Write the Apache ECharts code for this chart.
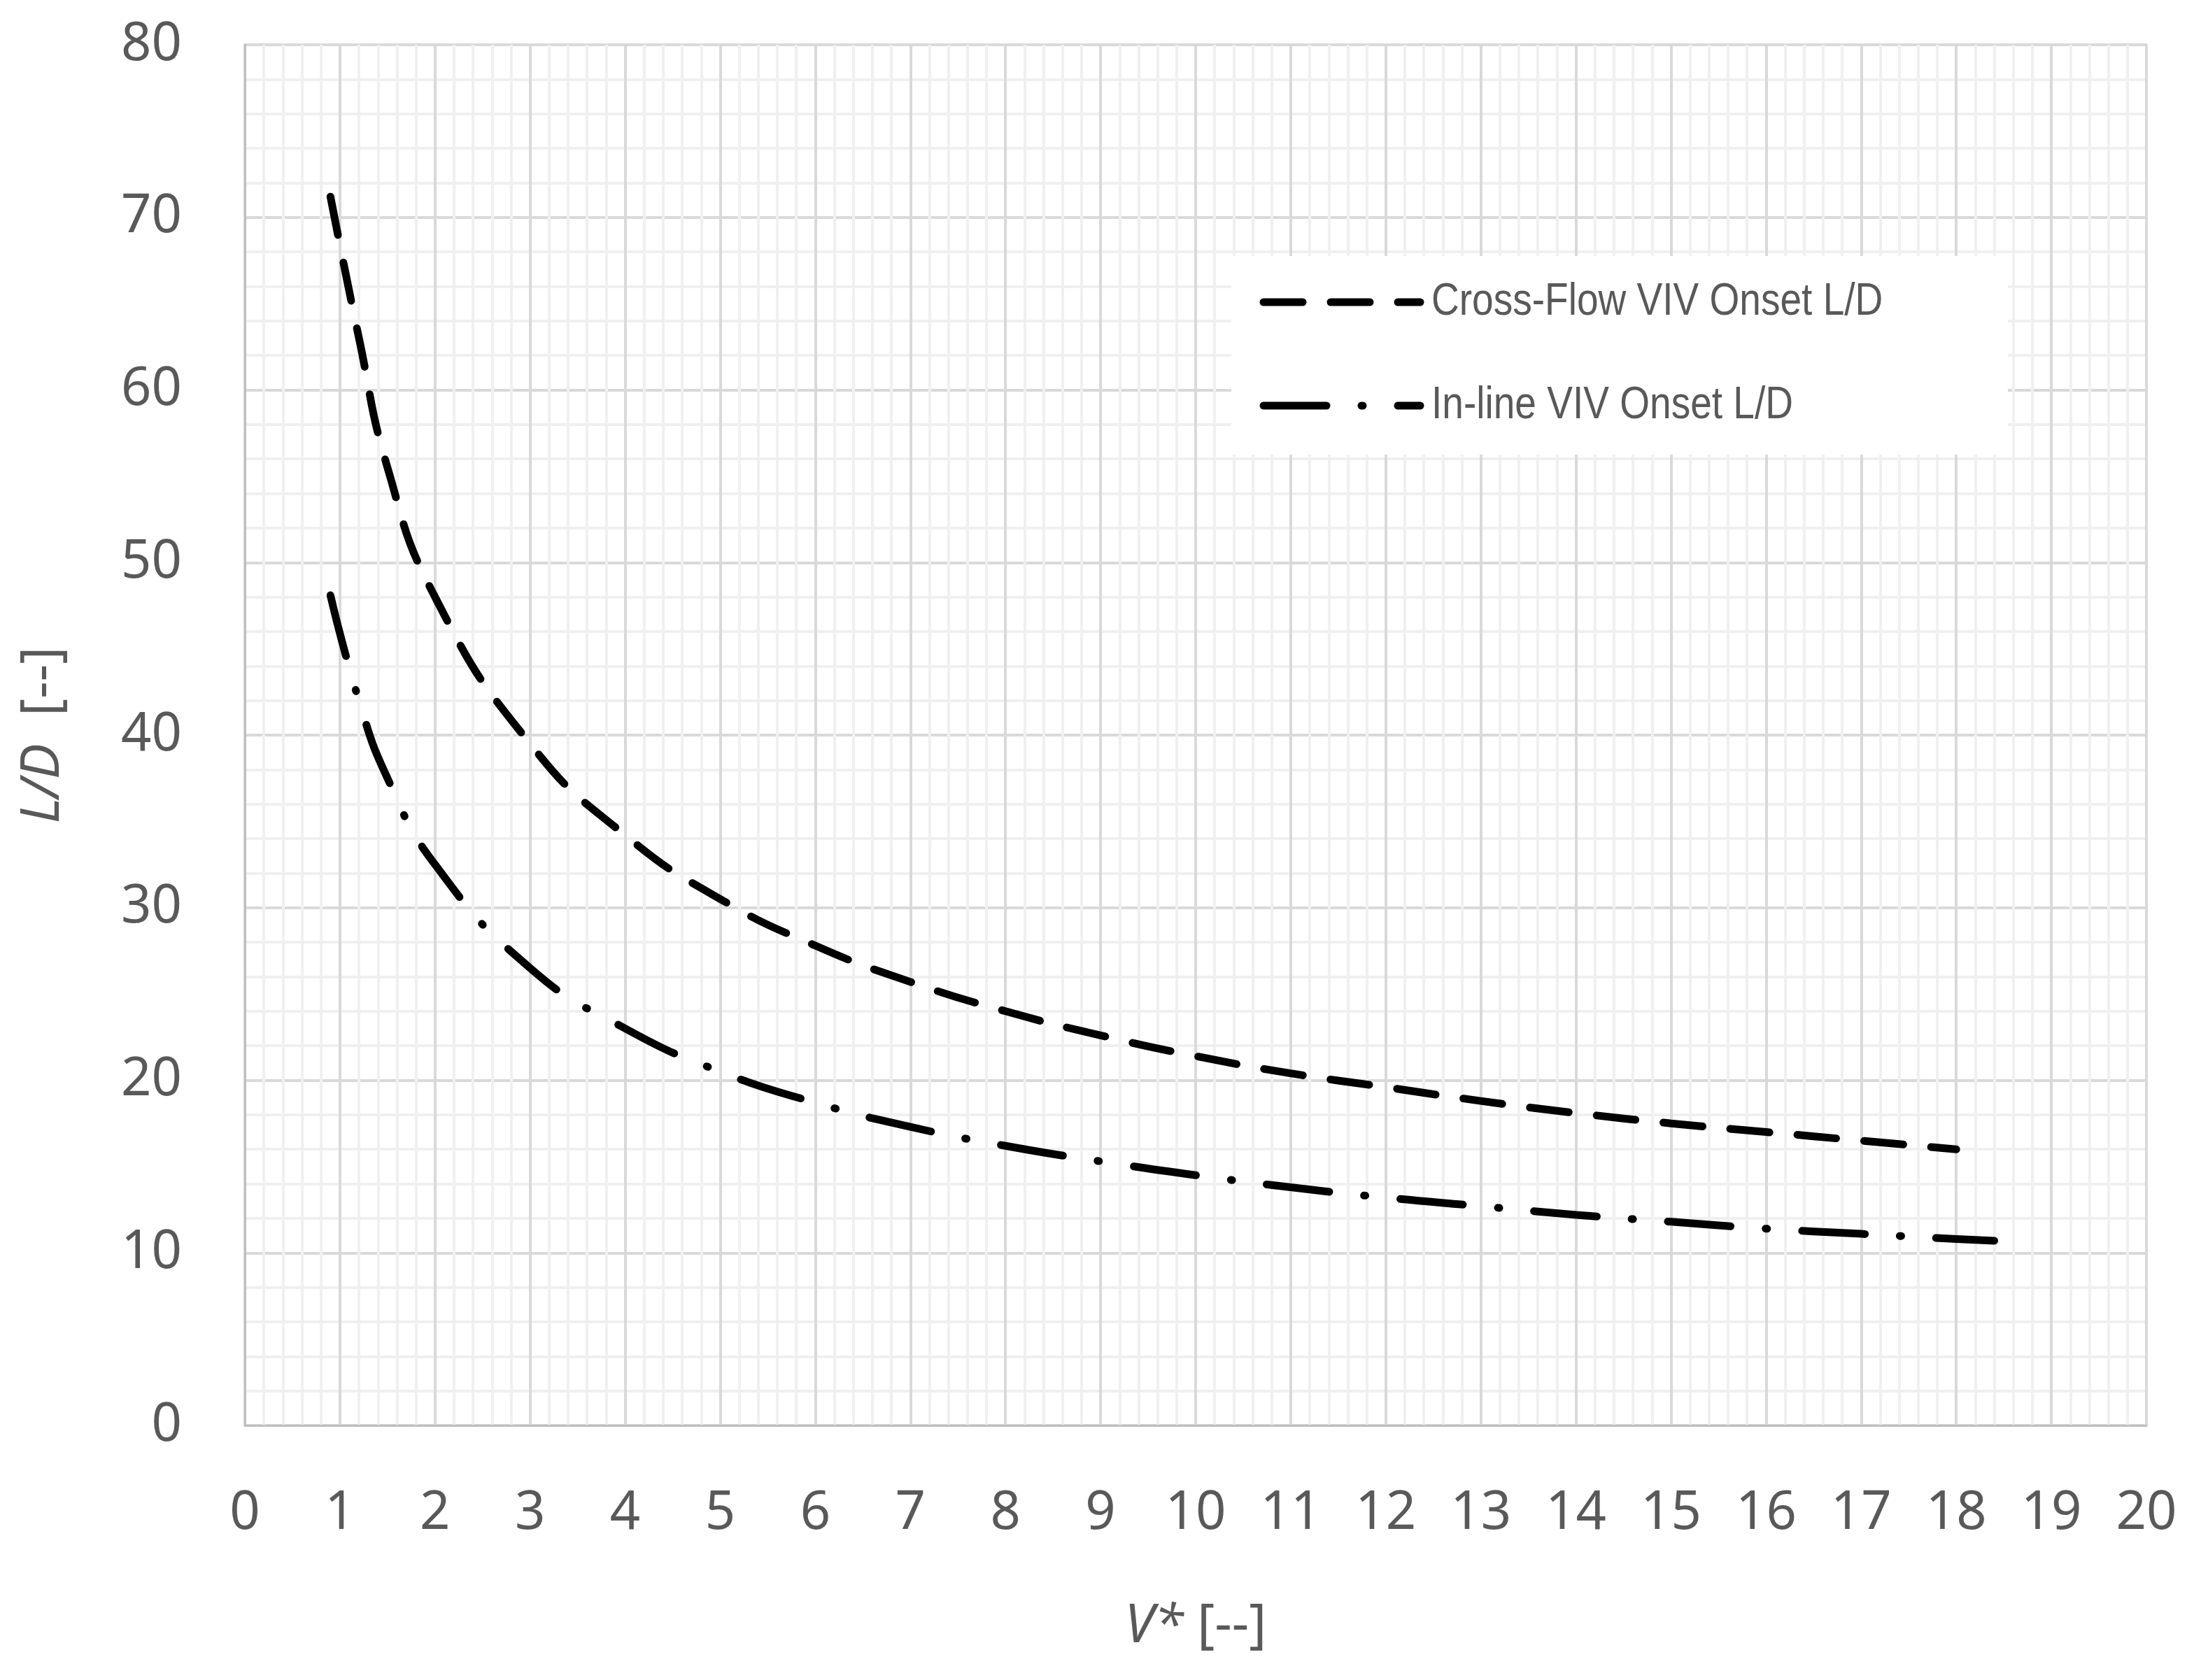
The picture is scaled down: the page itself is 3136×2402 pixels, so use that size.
<!DOCTYPE html>
<html><head><meta charset="utf-8">
<script src="https://cdn.jsdelivr.net/npm/echarts@6/dist/echarts.min.js"></script>
<style>html,body{margin:0;padding:0;background:#fff}#c{width:3136px;height:2402px}</style>
</head><body><div id="c"></div>
<script>
const crossX = [0.9, 1.2, 1.5, 2, 3, 4, 5, 6, 7, 8, 9, 10, 11, 12, 13, 14, 15, 16, 17, 18];
const crossY = [71.2, 63, 55.5, 48, 39.5, 34.2, 30.5, 27.8, 25.7, 24.0, 22.6, 21.4, 20.4, 19.6, 18.8, 18.1, 17.5, 17.0, 16.5, 16.0];
const inlineX = [0.9, 1.2, 1.5, 2, 3, 4, 5, 6, 7, 8, 9, 10, 11, 12, 13, 14, 15, 16, 17, 18, 18.4];
const inlineY = [48.1, 42, 37.5, 32.5, 26.5, 23, 20.5, 18.7, 17.3, 16.2, 15.3, 14.5, 13.8, 13.2, 12.7, 12.2, 11.8, 11.4, 11.1, 10.8, 10.7];
const seriesNames = ['Cross-Flow VIV Onset L/D', 'In-line VIV Onset L/D'];

const dashA = [56, 40], dashB = [90, 50, 2, 50];
const zip = (xs, ys) => xs.map((x, i) => [x, ys[i]]);
const chart = echarts.init(document.getElementById('c'));
const lab = {color:'#595959', fontSize:76, fontFamily:'Noto Sans'};
const legText = {fill:'#595959', fontSize:64, fontFamily:'Liberation Sans'};
chart.setOption({
  animation:false,
  backgroundColor:'#fff',
  grid:{left:350, top:64, right:68, bottom:364, show:true, borderColor:'#d9d9d9', borderWidth:3},
  xAxis:{type:'value', min:0, max:20, interval:1,
    axisLine:{show:true, lineStyle:{color:'#bfbfbf', width:3}}, axisTick:{show:false},
    axisLabel:{...lab, margin:88},
    splitLine:{show:true, lineStyle:{color:'#d9d9d9', width:4}},
    minorTick:{show:false, splitNumber:5},
    minorSplitLine:{show:true, lineStyle:{color:'#f0f0f0', width:4}},
    name:'{i|V*} [--]', nameLocation:'middle', nameGap:250,
    nameTextStyle:{...lab, rich:{i:{...lab, fontStyle:'italic'}}}},
  yAxis:{type:'value', min:0, max:80, interval:10,
    axisLine:{show:true, lineStyle:{color:'#bfbfbf', width:3}}, axisTick:{show:false},
    axisLabel:{...lab, margin:90},
    splitLine:{show:true, lineStyle:{color:'#d9d9d9', width:4}},
    minorTick:{show:false, splitNumber:5},
    minorSplitLine:{show:true, lineStyle:{color:'#f0f0f0', width:4}},
    name:'{i|L/D}  [--]', nameLocation:'middle', nameGap:250,
    nameTextStyle:{...lab, rich:{i:{...lab, fontStyle:'italic'}}}},
  graphic:[
    {type:'rect', shape:{x:1760, y:366, width:1110, height:284}, style:{fill:'#fff'}, z:10},
    {type:'line', shape:{x1:1806, y1:432, x2:2030, y2:432}, style:{stroke:'#000', lineWidth:11, lineDash:dashA, lineCap:'round'}, z:11},
    {type:'line', shape:{x1:1806, y1:580, x2:2030, y2:580}, style:{stroke:'#000', lineWidth:11, lineDash:dashB, lineCap:'round'}, z:11},
    {type:'text', x:2046, y:432, scaleX:0.86, style:{...legText, text:seriesNames[0], verticalAlign:'middle'}, z:11},
    {type:'text', x:2046, y:580, scaleX:0.86, style:{...legText, text:seriesNames[1], verticalAlign:'middle'}, z:11}
  ],
  series:[
    {name:seriesNames[0], type:'line', data:zip(crossX, crossY), smooth:true, symbol:'none',
      lineStyle:{color:'#000', width:11, type:dashA, cap:'round'}, itemStyle:{color:'#000'}},
    {name:seriesNames[1], type:'line', data:zip(inlineX, inlineY), smooth:true, symbol:'none',
      lineStyle:{color:'#000', width:11, type:dashB, cap:'round'}, itemStyle:{color:'#000'}}
  ]
});
</script></body></html>
